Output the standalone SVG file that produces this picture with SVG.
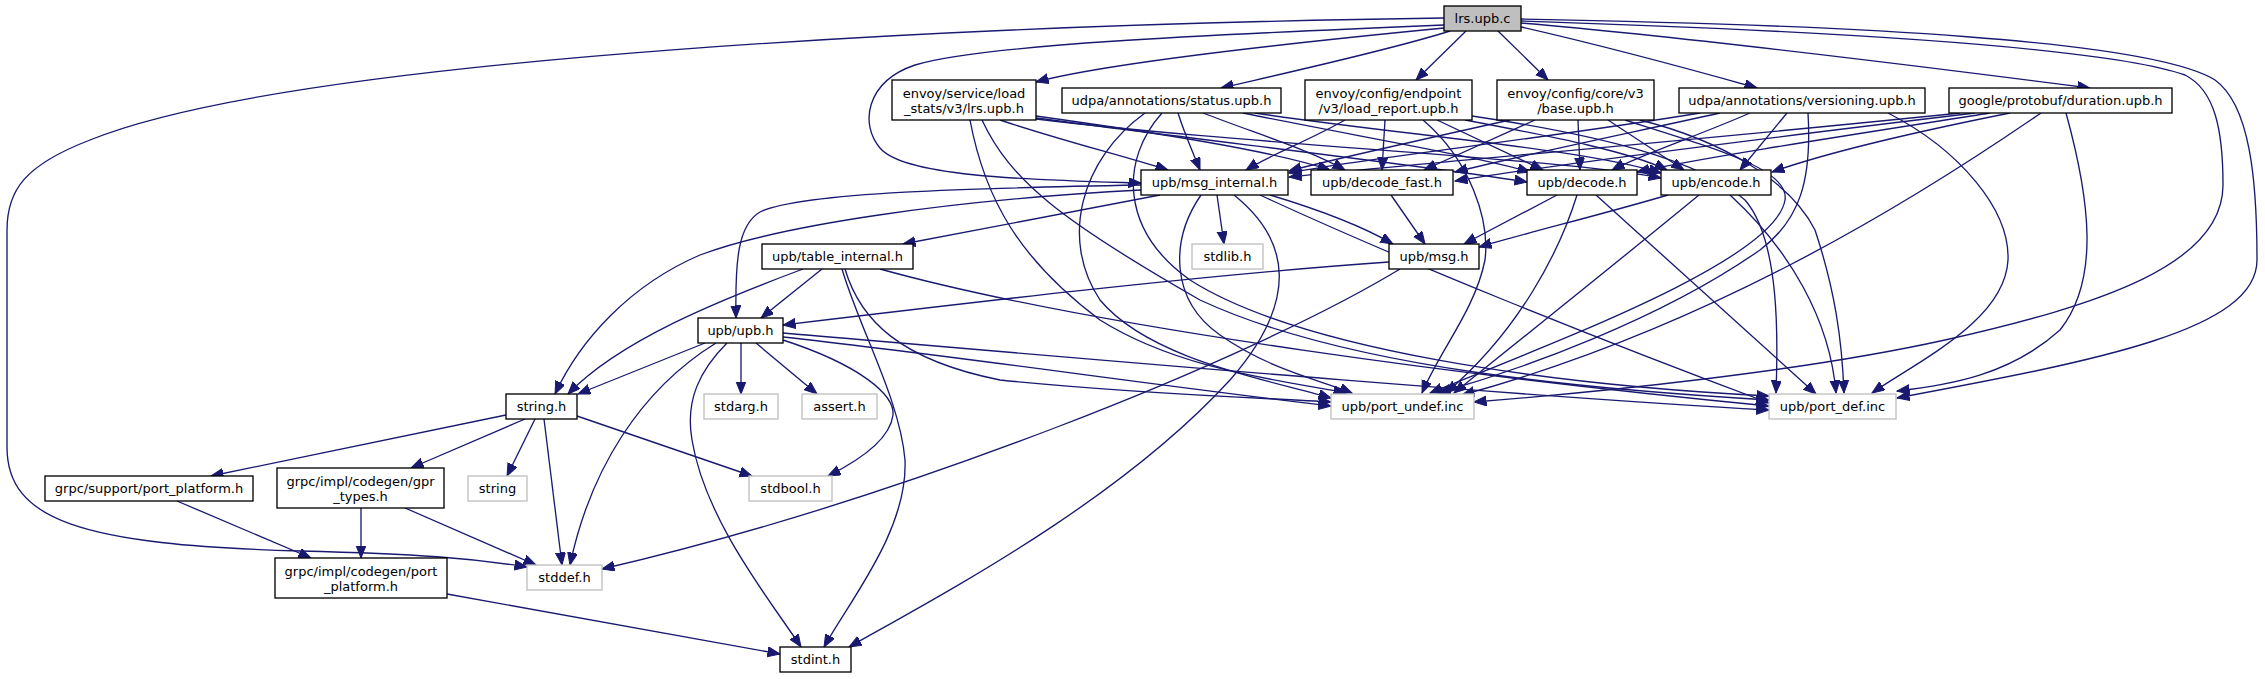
<svg xmlns="http://www.w3.org/2000/svg" width="2265" height="679" viewBox="0 0 2265 679">
<defs>
<marker id="a" markerUnits="userSpaceOnUse" markerWidth="14" markerHeight="11" refX="12.5" refY="5" orient="auto">
<path d="M0,0 L12.5,5 L0,10 Z" fill="#191970" stroke="#191970" stroke-width="1"/>
</marker>
<style>
.e path{fill:none;stroke:#191970;stroke-width:1.33;marker-end:url(#a)}
.n rect{fill:#fff;stroke:#000;stroke-width:1.33}
.g rect{fill:#fff;stroke:#bfbfbf;stroke-width:1.33}
.r rect{fill:#bfbfbf;stroke:#000;stroke-width:1.33}
text{font-family:"DejaVu Sans","Liberation Sans",sans-serif;font-size:13px;fill:#000;text-anchor:middle}
</style>
</defs>
<rect width="2265" height="679" fill="#fff"/>
<g id="edges" class="e">
<!-- lrs.upb.c -->
<path d="M1444,18 C1000,24 300,55 90,140 C25,165 7,190 7,230 L7,447 C7,520 80,545 300,551 C420,554 470,558 527,567"/>
<path d="M1444,25 C1200,35 980,45 915,65 C865,82 860,125 880,148 C905,178 1040,180 1141,183"/>
<path d="M1444,28 C1300,42 1110,62 1036,82"/>
<path d="M1450,31 C1390,50 1290,72 1221,88"/>
<path d="M1466,31 L1416,80"/>
<path d="M1498,31 L1548,80"/>
<path d="M1521,27 C1600,45 1700,72 1757,88"/>
<path d="M1521,23 C1700,38 1950,70 2090,88"/>
<path d="M1521,21 C1800,30 2100,45 2185,75 C2215,90 2223,130 2223,185 C2223,265 2100,305 1945,340 C1800,372 1600,392 1474,402"/>
<path d="M1521,19 C1850,25 2150,40 2215,80 C2250,105 2257,180 2257,260 C2257,330 2100,360 1897,398"/>
<!-- lrs.upb.h -->
<path d="M1000,120 C1060,140 1120,155 1168,170"/>
<path d="M1036,116 C1150,132 1270,150 1330,170"/>
<path d="M1036,118 C1200,140 1420,165 1527,182"/>
<path d="M1036,119 C1250,145 1560,158 1661,178"/>
<path d="M970,120 C985,200 1020,260 1100,320 C1180,370 1280,380 1346,393"/>
<path d="M982,120 C1010,180 1060,220 1200,300 C1350,370 1600,390 1769,400"/>
<!-- status -->
<path d="M1145,113 C1080,160 1060,240 1100,300 C1150,360 1270,380 1331,398"/>
<path d="M1162,113 C1120,160 1120,230 1190,280 C1300,350 1550,385 1769,396"/>
<path d="M1178,113 C1185,135 1192,150 1200,170"/>
<path d="M1203,113 C1260,135 1310,150 1345,170"/>
<path d="M1243,113 C1350,135 1470,155 1530,172"/>
<path d="M1255,113 C1400,135 1580,148 1661,173"/>
<!-- load_report -->
<path d="M1345,120 C1310,140 1270,155 1246,170"/>
<path d="M1385,120 L1382,170"/>
<path d="M1423,120 C1470,160 1490,220 1485,260 C1475,310 1440,350 1422,393"/>
<path d="M1437,120 L1543,170"/>
<path d="M1465,120 C1560,138 1630,152 1667,170"/>
<path d="M1472,116 C1600,135 1700,160 1745,200 C1780,240 1778,340 1776,393"/>
<!-- base -->
<path d="M1510,120 C1420,140 1330,160 1289,171"/>
<path d="M1535,120 L1424,170"/>
<path d="M1578,120 L1580,170"/>
<path d="M1608,120 L1684,170"/>
<path d="M1625,120 C1720,150 1790,170 1785,200 C1775,260 1560,340 1430,393"/>
<path d="M1640,120 C1720,140 1790,180 1815,230 C1835,290 1842,340 1844,393"/>
<!-- versioning -->
<path d="M1700,113 C1550,138 1350,160 1289,173"/>
<path d="M1720,113 C1620,135 1510,158 1455,172"/>
<path d="M1750,113 C1700,135 1640,155 1612,170"/>
<path d="M1787,113 L1740,170"/>
<path d="M1808,113 C1812,180 1800,220 1760,250 C1660,320 1520,370 1438,393"/>
<path d="M1888,113 C1960,150 2010,210 2008,260 C2005,320 1920,360 1872,393"/>
<!-- duration -->
<path d="M1960,113 C1700,140 1400,165 1289,177"/>
<path d="M1975,113 C1750,140 1550,165 1455,181"/>
<path d="M1990,113 C1850,135 1700,158 1637,172"/>
<path d="M2010,113 C1900,135 1820,155 1772,172"/>
<path d="M2041,113 C1900,210 1700,330 1462,395"/>
<path d="M2066,113 C2090,200 2100,280 2060,330 C2010,375 1950,385 1897,391"/>
<!-- msg_internal -->
<path d="M1141,185 C980,188 800,192 760,212 C738,225 735,260 736,318"/>
<path d="M1141,190 C950,200 780,225 700,255 C630,285 580,340 555,394"/>
<path d="M1160,195 L903,244"/>
<path d="M1217,195 L1224,244"/>
<path d="M1234,195 C1290,240 1300,300 1230,380 C1120,500 950,590 849,647"/>
<path d="M1201,195 C1170,240 1170,300 1220,335 C1270,370 1320,380 1352,393"/>
<path d="M1260,195 C1400,260 1600,340 1769,403"/>
<path d="M1270,195 C1320,210 1360,225 1393,244"/>
<!-- table_internal -->
<path d="M822,269 L761,318"/>
<path d="M803,269 C720,300 620,340 568,394"/>
<path d="M842,269 C860,330 900,400 905,460 C908,530 850,600 824,647"/>
<path d="M845,269 C860,320 900,360 1000,380 C1150,395 1270,398 1331,402"/>
<path d="M880,269 C1100,330 1500,380 1769,406"/>
<!-- upb.h -->
<path d="M705,343 L578,394"/>
<path d="M716,343 C640,390 590,470 570,565"/>
<path d="M727,343 C700,370 685,400 692,440 C705,520 770,600 801,647"/>
<path d="M741,343 L741,394"/>
<path d="M756,343 L817,394"/>
<path d="M783,340 C860,365 895,395 893,415 C890,440 860,460 828,476"/>
<path d="M783,337 C950,355 1150,385 1331,406"/>
<path d="M783,333 C1100,360 1500,395 1769,410"/>
<!-- msg.h -->
<path d="M1389,262 C1200,275 950,305 783,325"/>
<path d="M1400,269 C1250,360 900,500 602,569"/>
<!-- decode_fast / decode / encode -->
<path d="M1391,195 L1425,244"/>
<path d="M1557,195 L1464,244"/>
<path d="M1668,195 C1600,215 1530,232 1479,247"/>
<path d="M1577,195 C1560,250 1520,330 1446,393"/>
<path d="M1596,195 L1816,394"/>
<path d="M1699,195 C1620,260 1520,340 1454,393"/>
<path d="M1730,195 C1790,250 1830,320 1836,393"/>
<!-- string.h etc -->
<path d="M506,415 L211,476"/>
<path d="M525,419 L411,468"/>
<path d="M535,419 L507,476"/>
<path d="M544,419 L562,565"/>
<path d="M577,416 L752,476"/>
<path d="M361,508 L361,558"/>
<path d="M405,508 L536,565"/>
<path d="M177,501 L311,558"/>
<path d="M447,594 L780,654"/>
</g>
<g id="node-lrs-upb-c" class="r"><rect x="1444" y="6" width="77" height="25"/><text x="1482.5" y="23">lrs.upb.c</text></g>
<g id="node-lrs-upb-h" class="n"><rect x="892" y="80" width="144" height="40"/><text x="964" y="97.5">envoy/service/load</text><text x="964" y="112.5">_stats/v3/lrs.upb.h</text></g>
<g id="node-status" class="n"><rect x="1062" y="88" width="219" height="25"/><text x="1171.5" y="105">udpa/annotations/status.upb.h</text></g>
<g id="node-load-report" class="n"><rect x="1305" y="80" width="167" height="40"/><text x="1388.5" y="97.5">envoy/config/endpoint</text><text x="1388.5" y="112.5">/v3/load_report.upb.h</text></g>
<g id="node-base" class="n"><rect x="1497" y="80" width="157" height="40"/><text x="1575.5" y="97.5">envoy/config/core/v3</text><text x="1575.5" y="112.5">/base.upb.h</text></g>
<g id="node-versioning" class="n"><rect x="1679" y="88" width="246" height="25"/><text x="1802" y="105">udpa/annotations/versioning.upb.h</text></g>
<g id="node-duration" class="n"><rect x="1949" y="88" width="223" height="25"/><text x="2060.5" y="105">google/protobuf/duration.upb.h</text></g>
<g id="node-msg-internal" class="n"><rect x="1141" y="170" width="147" height="25"/><text x="1214.5" y="187">upb/msg_internal.h</text></g>
<g id="node-decode-fast" class="n"><rect x="1311" y="170" width="142" height="25"/><text x="1382" y="187">upb/decode_fast.h</text></g>
<g id="node-decode" class="n"><rect x="1527" y="170" width="110" height="25"/><text x="1582" y="187">upb/decode.h</text></g>
<g id="node-encode" class="n"><rect x="1661" y="170" width="110" height="25"/><text x="1716" y="187">upb/encode.h</text></g>
<g id="node-table-internal" class="n"><rect x="762" y="244" width="151" height="25"/><text x="837.5" y="261">upb/table_internal.h</text></g>
<g id="node-stdlib" class="g"><rect x="1192" y="244" width="71" height="25"/><text x="1227.5" y="261">stdlib.h</text></g>
<g id="node-msg" class="n"><rect x="1389" y="244" width="90" height="25"/><text x="1434" y="261">upb/msg.h</text></g>
<g id="node-upb" class="n"><rect x="698" y="318" width="85" height="25"/><text x="740.5" y="335">upb/upb.h</text></g>
<g id="node-string-h" class="n"><rect x="506" y="394" width="71" height="25"/><text x="541.5" y="411">string.h</text></g>
<g id="node-stdarg" class="g"><rect x="704" y="394" width="74" height="25"/><text x="741" y="411">stdarg.h</text></g>
<g id="node-assert" class="g"><rect x="802" y="394" width="75" height="25"/><text x="839.5" y="411">assert.h</text></g>
<g id="node-port-undef" class="g"><rect x="1331" y="394" width="143" height="25"/><text x="1402.5" y="411">upb/port_undef.inc</text></g>
<g id="node-port-def" class="g"><rect x="1769" y="394" width="127" height="25"/><text x="1832.5" y="411">upb/port_def.inc</text></g>
<g id="node-grpc-support-port-platform" class="n"><rect x="45" y="476" width="208" height="25"/><text x="149" y="493">grpc/support/port_platform.h</text></g>
<g id="node-gpr-types" class="n"><rect x="277" y="468" width="167" height="40"/><text x="360.5" y="485.5">grpc/impl/codegen/gpr</text><text x="360.5" y="500.5">_types.h</text></g>
<g id="node-string" class="g"><rect x="468" y="476" width="59" height="25"/><text x="497.5" y="493">string</text></g>
<g id="node-stdbool" class="g"><rect x="749" y="476" width="83" height="25"/><text x="790.5" y="493">stdbool.h</text></g>
<g id="node-codegen-port-platform" class="n"><rect x="275" y="558" width="172" height="40"/><text x="361" y="575.5">grpc/impl/codegen/port</text><text x="361" y="590.5">_platform.h</text></g>
<g id="node-stddef" class="g"><rect x="527" y="565" width="75" height="25"/><text x="564.5" y="582">stddef.h</text></g>
<g id="node-stdint" class="n"><rect x="780" y="647" width="71" height="25"/><text x="815.5" y="664">stdint.h</text></g>
</svg>
